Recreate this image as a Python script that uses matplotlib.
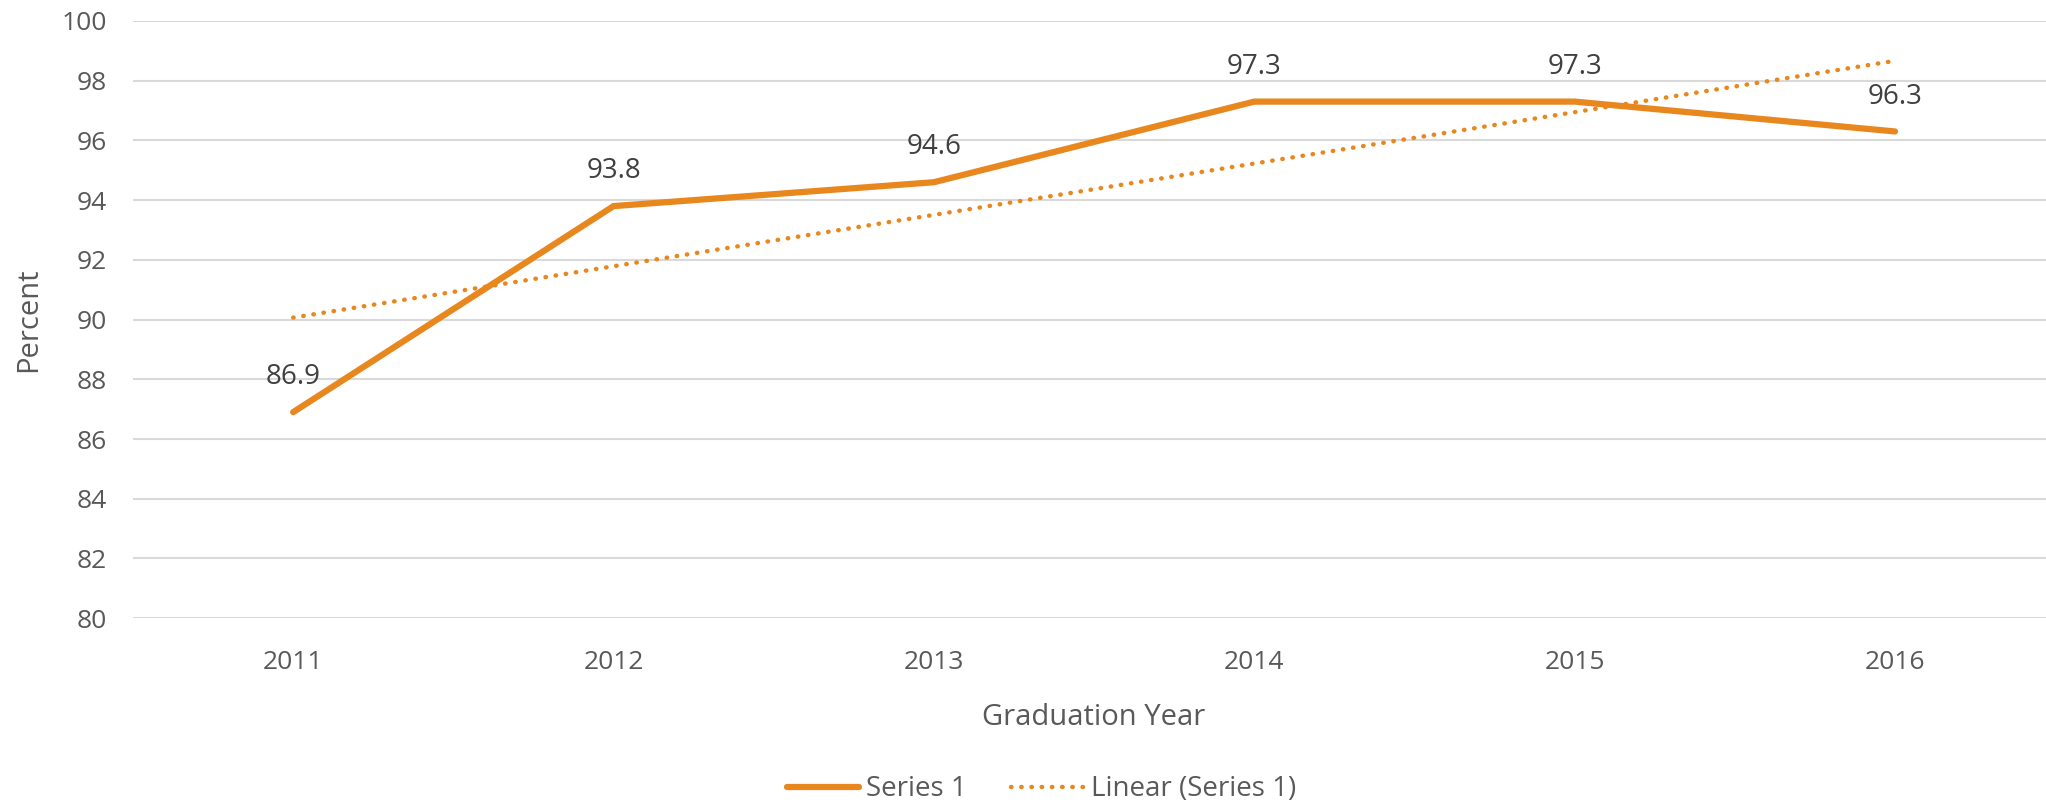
import numpy as np
import matplotlib.pyplot as plt

plt.rcParams['font.family'] = ['Open Sans', 'DejaVu Sans']

years = ['2011', '2012', '2013', '2014', '2015', '2016']
percent = [86.9, 93.8, 94.6, 97.3, 97.3, 96.3]

orange = '#E8871E'
grey = '#595959'

fig = plt.figure(figsize=(20.46, 8.07), dpi=100)
ax = fig.add_axes([0.065, 0.234, 0.9395, 0.74])

x = np.arange(len(years))
y = np.array(percent)

# linear trendline of the series (same as Excel's "Linear" trendline)
slope, icpt = np.polyfit(x, y, 1)
ax.plot(x, slope * x + icpt, linestyle=(0, (0.1, 2.2)), color=orange,
        linewidth=3.2, dash_capstyle='round', label='Linear (Series 1)', zorder=3)
ax.plot(x, y, color=orange, linewidth=4.5, solid_capstyle='round',
        solid_joinstyle='miter', label='Series 1', zorder=4)

for xi, yi in zip(x, y):
    ax.annotate('{0:.1f}'.format(yi), (xi, yi), xytext=(0, 15),
                textcoords='offset points', ha='center', va='bottom',
                fontsize=20, color='#404040')

ax.set_xlim(-0.5, 5.5)
ax.set_ylim(80, 100)
ax.set_yticks(np.arange(80, 101, 2))
ax.set_xticks(x)
ax.set_xticklabels(years)
ax.grid(axis='y', color='#D9D9D9', linewidth=1.5)
ax.set_axisbelow(True)
for s in ax.spines.values():
    s.set_visible(False)
ax.tick_params(axis='both', length=0, colors=grey, labelsize=19)
ax.tick_params(axis='y', pad=19)
ax.tick_params(axis='x', pad=23)

ax.set_ylabel('Percent', fontsize=21, color=grey)
ax.yaxis.set_label_coords(-0.047, 0.5)
ax.set_xlabel('Graduation Year', fontsize=21, color=grey)
ax.xaxis.set_label_coords(0.5, -0.142)

h, l = ax.get_legend_handles_labels()
fig.legend(h[::-1], l[::-1], loc='center', bbox_to_anchor=(0.509, 0.022),
           ncol=2, frameon=False, fontsize=20, labelcolor=grey,
           handlelength=2.6, handletextpad=0.25, columnspacing=1.6)

fig.savefig('out.png', dpi=100)
